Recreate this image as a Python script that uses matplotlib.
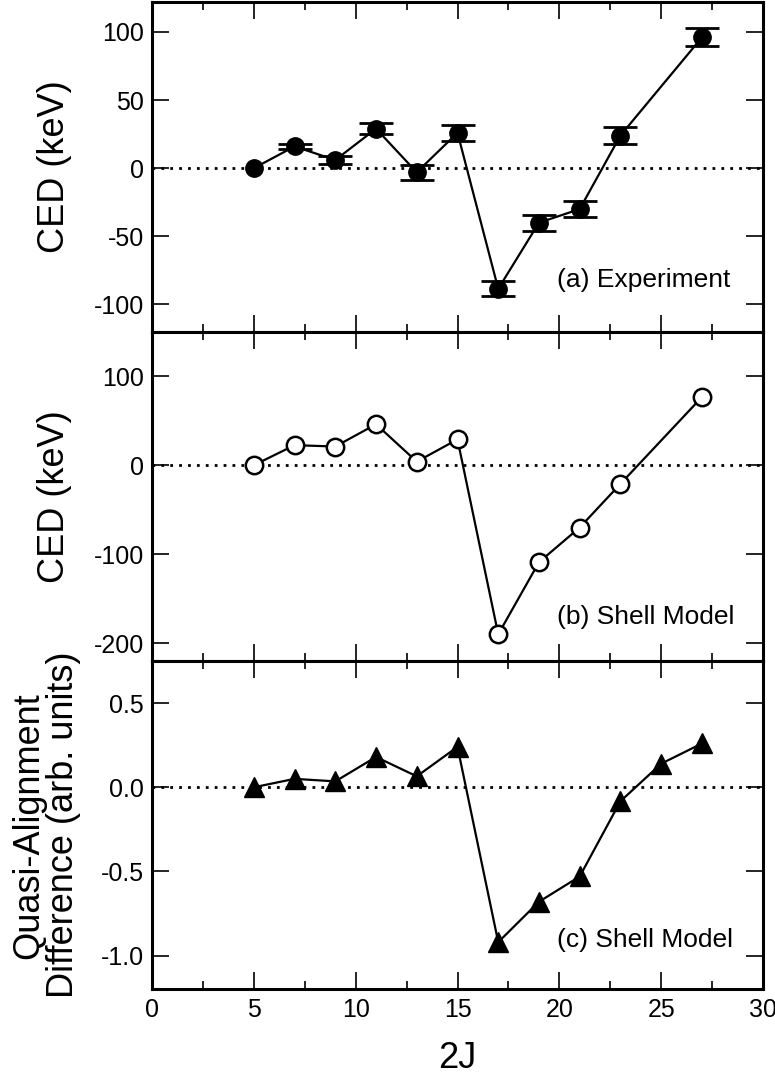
import matplotlib
matplotlib.use("Agg")
import matplotlib.pyplot as plt
from matplotlib.ticker import MultipleLocator, FixedLocator

plt.rcParams['font.family'] = ['Liberation Sans', 'DejaVu Sans']
plt.rcParams['axes.unicode_minus'] = False

# ---- data ----
spin_exp = [5, 7, 9, 11, 13, 15, 17, 19, 21, 23, 27]
ced_exp = [0, 16, 6, 29, -3, 26, -88.5, -40, -30, 24, 96]
ced_err = [0, 2, 3, 4, 5.5, 6, 5.6, 6, 6, 6.3, 6.6]

spin_sm = [5, 7, 9, 11, 13, 15, 17, 19, 21, 23, 27]
ced_sm = [0, 22.5, 21, 46, 4, 29, -190, -109, -70, -21, 76.5]

spin_qa = [5, 7, 9, 11, 13, 15, 17, 19, 21, 23, 25, 27]
qa_diff = [0, 0.05, 0.035, 0.18, 0.065, 0.24, -0.92, -0.68, -0.53, -0.083, 0.14, 0.26]

yticks_a = [-100, -50, 0, 50, 100]
yticks_b = [-200, -100, 0, 100]
yticks_c = [-1.0, -0.5, 0.0, 0.5]
xticks = [0, 5, 10, 15, 20, 25, 30]

W, H = 775, 1078
fig = plt.figure(figsize=(W / 100, H / 100), dpi=100)

left = 152 / W
width = (763 - 152) / W
edges = [2, 331.7, 661, 989.3]
axes = []
for i in range(3):
    top = 1 - edges[i] / H
    bot = 1 - edges[i + 1] / H
    ax = fig.add_axes([left, bot, width, top - bot])
    axes.append(ax)

ax_a, ax_b, ax_c = axes

lw_line = 1.6
for ax in axes:
    ax.set_xlim(0, 30)
    ax.axhline(0, color='black', lw=2, linestyle=(0, (1, 2.2)), zorder=1)
    ax.xaxis.set_major_locator(FixedLocator(xticks))
    ax.xaxis.set_minor_locator(MultipleLocator(2.5))
    ax.tick_params(which='both', direction='in', top=True, right=True,
                   width=1.2, labelsize=18, pad=6)
    ax.tick_params(which='major', length=12)
    ax.tick_params(which='minor', length=6)
    ax.tick_params(axis='y', which='minor', left=False, right=False)
    for s in ax.spines.values():
        s.set_linewidth(2.2)

# (a) Experiment
ax_a.plot(spin_exp, ced_exp, '-o', color='black', lw=lw_line, ms=12.5, zorder=3)
err_idx = [i for i, e in enumerate(ced_err) if e > 0]
ax_a.errorbar([spin_exp[i] for i in err_idx], [ced_exp[i] for i in err_idx],
              yerr=[ced_err[i] for i in err_idx], fmt='none', ecolor='black',
              capsize=12, capthick=2.0, elinewidth=1.6, zorder=4)
ax_a.set_ylim(-120, 122)
ax_a.set_yticks(yticks_a)
ax_a.set_yticklabels([f"{v:g}" for v in yticks_a])
ax_a.tick_params(labelbottom=False)
ax_a.text(0.663, 0.136, "(a) Experiment", transform=ax_a.transAxes,
          fontsize=19, ha='left', va='baseline')

# (b) Shell Model CED
ax_b.plot(spin_sm, ced_sm, '-o', color='black', lw=lw_line, ms=12.5,
          mfc='white', mec='black', mew=1.8, zorder=3)
ax_b.set_ylim(-220, 150)
ax_b.set_yticks(yticks_b)
ax_b.set_yticklabels([f"{v:g}" for v in yticks_b])
ax_b.tick_params(labelbottom=False)
ax_b.text(0.663, 0.113, "(b) Shell Model", transform=ax_b.transAxes,
          fontsize=19, ha='left', va='baseline')

# (c) Shell Model quasi-alignment
ax_c.plot(spin_qa, qa_diff, '-^', color='black', lw=lw_line, ms=14, zorder=3)
ax_c.set_ylim(-1.2, 0.75)
ax_c.set_yticks(yticks_c)
ax_c.set_yticklabels([f"{v:.1f}" for v in yticks_c])
ax_c.set_xticklabels([str(v) for v in xticks])
ax_c.text(0.663, 0.13, "(c) Shell Model", transform=ax_c.transAxes,
          fontsize=19, ha='left', va='baseline')

# axis labels
def cy(i):
    return 1 - (edges[i] + edges[i + 1]) / 2 / H

fig.text(55 / W, cy(0), "CED (keV)", rotation=90, ha='center', va='center', fontsize=26)
fig.text(55 / W, cy(1), "CED (keV)", rotation=90, ha='center', va='center', fontsize=26)
fig.text(46 / W, cy(2), "Quasi-Alignment\nDifference (arb. units)", rotation=90,
         ha='center', va='center', fontsize=26, linespacing=1.0, multialignment='center')
fig.text(457 / W, 1 - 1059 / H, "2J", ha='center', va='center', fontsize=26)

fig.savefig("out.png", dpi=100)
